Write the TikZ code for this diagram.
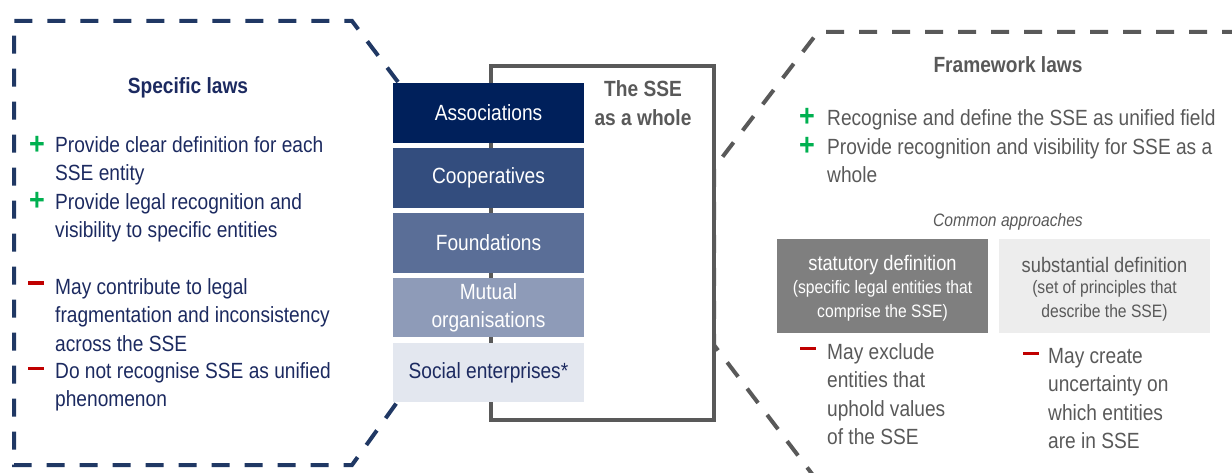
\documentclass[tikz,border=0pt]{standalone}
\usepackage{fontspec}
\setmainfont{Liberation Sans}[FakeStretch=0.87]
\usepackage{xcolor}
\usetikzlibrary{positioning}
\definecolor{mynavy}{RGB}{32,56,100}
\definecolor{navytext}{RGB}{28,42,96}
\definecolor{mygray}{RGB}{89,89,89}
\definecolor{mygreen}{RGB}{0,176,80}
\definecolor{myred}{RGB}{192,0,0}
\definecolor{assoc}{RGB}{0,32,91}
\definecolor{coop}{RGB}{51,77,126}
\definecolor{found}{RGB}{90,110,151}
\definecolor{mutual}{RGB}{142,155,184}
\definecolor{social}{RGB}{227,231,239}
\definecolor{statfill}{RGB}{127,127,127}
\definecolor{substfill}{RGB}{237,237,237}
\newcommand{\bodyfont}{\fontsize{22}{28.5}\selectfont}
\newcommand{\smallfont}{\fontsize{18}{24}\selectfont}

\begin{document}
\begin{tikzpicture}[x=1pt,y=-1pt,
  laws/.style={line width=4pt, dash pattern=on 18pt off 15pt},
  heading/.style={font=\bodyfont\bfseries, inner sep=0pt},
  bullet/.style={font=\bodyfont, align=left, anchor=north west, inner sep=0pt},
  entity/.style={minimum width=191pt, minimum height=59.5pt, inner sep=0pt, font=\bodyfont, text=white, align=center},
  plus/.style={text=mygreen, font=\fontsize{31}{31}\selectfont\bfseries, inner sep=0pt},
  minus/.style={fill=myred, minimum width=16pt, minimum height=3pt, inner sep=0pt},
  approach/.style={minimum width=211pt, minimum height=94pt, inner sep=0pt}]
\useasboundingbox (0,0) rectangle (1232,473);

%frames
\coordinate (L1) at (398,82);
\coordinate (L2) at (352,21);
\coordinate (L3) at (14,21);
\coordinate (L4) at (14,465);
\coordinate (L5) at (352,465);
\coordinate (L6) at (398,401);
\draw[laws, mynavy] (L1) -- (L2) -- (L3) -- (L4) -- (L5) -- (L6);

\coordinate (R1) at (1240,32);
\coordinate (R2) at (818,32);
\coordinate (R3) at (714,168);
\coordinate (R4) at (714,345);
\coordinate (R5) at (822,487);
\draw[laws, mygray] (R1) -- (R2) -- (R3) -- (R4) -- (R5);

%the SSE as a whole
\draw[mygray, line width=3.5pt, fill=white] (491,66) rectangle (714,420);
\node[heading, text=mygray, align=center] (whole) at (643,103) {The SSE\\as a whole};

\node[entity, fill=assoc] (assoc) at (488.5,113) {Associations};
\node[entity, fill=coop, below=5pt of assoc] (coop) {Cooperatives};
\node[entity, fill=found, below=5pt of coop] (found) {Foundations};
\node[entity, fill=mutual, below=5pt of found] (mutual) {Mutual\\organisations};
\node[entity, fill=social, text=navytext, below=5pt of mutual] (social) {Social enterprises*};

%specific laws
\node[heading, text=navytext] (specific) at (188,88) {Specific laws};
\node[bullet, text=navytext] (spec1) at (55,136) {Provide clear definition for each\\SSE entity};
\node[bullet, text=navytext] (spec2) at (55,193) {Provide legal recognition and\\visibility to specific entities};
\node[bullet, text=navytext] (spec3) at (55,278) {May contribute to legal\\fragmentation and inconsistency\\across the SSE};
\node[bullet, text=navytext] (spec4) at (55,362) {Do not recognise SSE as unified\\phenomenon};
\node[plus] at (37,145) {+};
\node[plus] at (37,201) {+};
\node[minus] at (36,283) {};
\node[minus] at (36,368) {};

%framework laws
\node[heading, text=mygray] (framework) at (1008,65) {Framework laws};
\node[bullet, text=mygray] (frame1) at (827,109) {Recognise and define the SSE as unified field};
\node[bullet, text=mygray] (frame2) at (827,138) {Provide recognition and visibility for SSE as a\\whole};
\node[plus] at (807,117) {+};
\node[plus] at (807,146) {+};

\node[font=\smallfont\itshape, text=mygray, inner sep=0pt] (common) at (1008,222) {Common approaches};

\node[approach, fill=statfill] (stat) at (882.5,286) {};
\node[font=\fontsize{21}{24}\selectfont, text=white, inner sep=0pt] (statname) at (882.5,265) {statutory definition};
\node[font=\smallfont, text=white, align=center, inner sep=0pt] (statnote) at (882.5,301) {(specific legal entities that\\comprise the SSE)};

\node[approach, fill=substfill] (subst) at (1104.5,286) {};
\node[font=\fontsize{21}{24}\selectfont, text=mygray, inner sep=0pt] (substname) at (1104.5,265) {substantial definition};
\node[font=\smallfont, text=mygray, align=center, inner sep=0pt] (substnote) at (1104.5,301) {(set of principles that\\describe the SSE)};

\node[bullet, text=mygray] (stat1) at (827,343) {May exclude\\entities that\\uphold values\\of the SSE};
\node[bullet, text=mygray] (subst1) at (1048,348) {May create\\uncertainty on\\which entities\\are in SSE};
\node[minus] at (808,348) {};
\node[minus] at (1031,353) {};

\end{tikzpicture}
\end{document}
